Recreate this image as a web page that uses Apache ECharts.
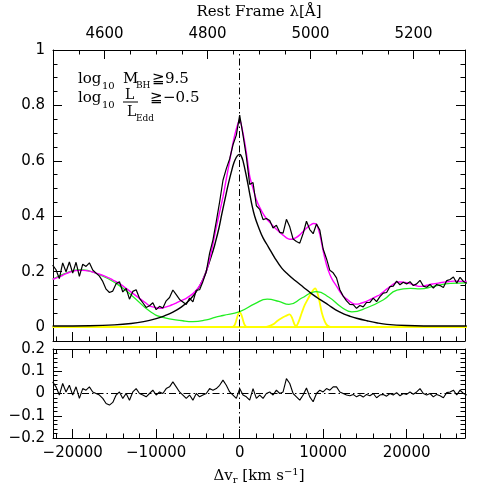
<!DOCTYPE html>
<html><head><meta charset="utf-8">
<script src="https://cdn.jsdelivr.net/npm/echarts@6/dist/echarts.min.js"></script>
<style>html,body{margin:0;padding:0;background:#fff}#c{width:491px;height:491px}</style>
</head><body><div id="c"></div>
<script>
// ---------- data ----------
const velocity = [-22400,-22000,-21600,-21200,-20800,-20400,-20000,-19600,-19200,-18800,
 -18400,-18000,-17600,-17200,-16800,-16400,-16000,-15600,-15200,-14800,
 -14400,-14000,-13600,-13200,-12800,-12400,-12000,-11600,-11200,-10800,
 -10400,-10000,-9600,-9200,-8800,-8400,-8000,-7600,-7200,-6800,
 -6400,-6000,-5600,-5200,-4800,-4400,-4000,-3600,-3200,-2800,
 -2400,-2000,-1600,-1200,-800,-400,0,400,800,1200,
 1600,2000,2400,2800,3200,3600,4000,4400,4800,5200,
 5600,6000,6400,6800,7200,7600,8000,8400,8800,9200,
 9600,10000,10400,10800,11200,11600,12000,12400,12800,13200,
 13600,14000,14400,14800,15200,15600,16000,16400,16800,17200,
 17600,18000,18400,18800,19200,19600,20000,20400,20800,21200,
 21600,22000,22400,22800,23200,23600,24000,24400,24800,25200,
 25600,26000,26400,26800,27200];
const observedFlux = [0.224,0.207,0.175,0.232,0.200,0.235,0.195,0.234,0.183,0.227,
 0.219,0.232,0.206,0.195,0.184,0.165,0.137,0.125,0.130,0.157,
 0.164,0.127,0.140,0.101,0.129,0.135,0.104,0.088,0.071,0.077,
 0.088,0.063,0.075,0.069,0.095,0.107,0.134,0.117,0.100,0.091,
 0.082,0.105,0.091,0.133,0.135,0.165,0.200,0.267,0.315,0.382,
 0.452,0.530,0.572,0.607,0.658,0.693,0.765,0.693,0.615,0.515,
 0.522,0.438,0.425,0.388,0.392,0.385,0.358,0.368,0.342,0.339,
 0.389,0.362,0.318,0.309,0.303,0.338,0.382,0.352,0.337,0.372,
 0.350,0.282,0.247,0.205,0.196,0.178,0.135,0.112,0.095,0.082,
 0.081,0.068,0.078,0.073,0.089,0.089,0.105,0.092,0.110,0.123,
 0.125,0.146,0.148,0.166,0.153,0.162,0.156,0.164,0.150,0.156,
 0.169,0.148,0.144,0.154,0.141,0.154,0.150,0.143,0.168,0.172,
 0.181,0.159,0.180,0.165,0.158];
const modelFlux = [0.172,0.177,0.182,0.187,0.193,0.198,0.202,0.204,0.205,0.205,
 0.204,0.202,0.199,0.195,0.191,0.187,0.182,0.177,0.170,0.164,
 0.157,0.149,0.140,0.131,0.122,0.113,0.104,0.095,0.086,0.077,
 0.073,0.070,0.068,0.069,0.073,0.077,0.082,0.087,0.093,0.098,
 0.104,0.112,0.121,0.133,0.150,0.172,0.200,0.245,0.300,0.360,
 0.415,0.470,0.535,0.600,0.665,0.715,0.750,0.700,0.630,0.545,
 0.500,0.460,0.432,0.410,0.392,0.378,0.365,0.353,0.342,0.332,
 0.322,0.317,0.318,0.324,0.333,0.345,0.357,0.367,0.374,0.372,
 0.335,0.275,0.225,0.190,0.166,0.148,0.128,0.112,0.102,0.092,
 0.085,0.083,0.085,0.089,0.093,0.099,0.105,0.111,0.117,0.127,
 0.137,0.146,0.155,0.162,0.163,0.162,0.160,0.157,0.153,0.149,
 0.147,0.148,0.151,0.154,0.156,0.158,0.160,0.162,0.164,0.165,
 0.166,0.166,0.165,0.165,0.165];
const residual = [0.052,0.030,-0.007,0.045,0.007,0.037,-0.007,0.030,-0.022,0.022,
 0.015,0.030,0.007,0.000,-0.007,-0.022,-0.045,-0.052,-0.040,-0.007,
 0.007,-0.022,0.000,-0.030,0.007,0.022,0.000,-0.007,-0.015,0.000,
 0.015,-0.007,0.007,0.000,0.022,0.030,0.052,0.030,0.007,-0.007,
 -0.022,-0.007,-0.030,0.000,-0.015,-0.007,0.000,0.022,0.015,0.022,
 0.037,0.060,0.037,0.007,-0.007,-0.022,0.022,-0.007,-0.015,-0.030,
 0.022,-0.022,-0.007,-0.022,0.000,0.007,-0.007,0.015,0.000,0.007,
 0.067,0.045,0.000,-0.015,-0.030,-0.007,0.025,-0.015,-0.037,0.000,
 0.015,0.007,0.022,0.015,0.030,0.030,0.007,0.000,-0.007,-0.010,
 -0.004,-0.015,-0.007,-0.016,-0.004,-0.010,0.000,-0.019,-0.007,-0.004,
 -0.012,0.000,-0.007,0.004,-0.010,0.000,-0.004,0.007,-0.003,0.007,
 0.022,0.000,-0.007,0.000,-0.015,-0.004,-0.010,-0.019,0.004,0.007,
 0.015,-0.007,0.015,0.000,-0.007];

const broadV = [-22400,-18000,-15000,-13000,-11500,-10000,-9000,-8000,-7000,-6000,
 -5200,-4400,-3770,-3200,-2960,-2500,-2160,-1700,-1370,-1000,
 -700,-400,-150,0,150,400,840,1150,1440,1800,
 2230,2800,3430,4200,5040,5800,6640,7600,8640,9600,
 10640,11500,12440,13240,14000,15240,16500,17640,20000,24000,
 27200];
const broadF = [0.004,0.005,0.008,0.013,0.020,0.031,0.041,0.054,0.072,0.098,
 0.128,0.172,0.222,0.275,0.300,0.355,0.405,0.470,0.515,0.560,
 0.592,0.613,0.622,0.623,0.620,0.600,0.539,0.490,0.445,0.400,
 0.363,0.322,0.290,0.250,0.213,0.190,0.168,0.145,0.120,0.100,
 0.080,0.062,0.048,0.039,0.032,0.023,0.015,0.010,0.006,0.004,
 0.004];

const feV = [-22400,-20800,-19000,-16800,-14800,-12800,-10800,-9200,-6800,-5600,
 -4000,-2960,-2000,0,1840,3300,4700,5900,7440,8640,
 9200,10700,12200,13440,15240,17230,18840,20440,21600,23230,
 25240,27200];
const feF = [0.173,0.195,0.207,0.189,0.158,0.111,0.058,0.035,0.023,0.020,
 0.026,0.035,0.042,0.056,0.085,0.101,0.093,0.082,0.105,0.125,
 0.128,0.108,0.072,0.055,0.070,0.099,0.134,0.140,0.138,0.147,
 0.158,0.160];

const hbNarrowV = [-22400,-900,-600,-400,-200,0,200,400,600,900,27200];
const hbNarrowF = [0,0,0.008,0.025,0.045,0.054,0.045,0.025,0.008,0,0];
const o4959V = [-22400,3000,4000,4500,5000,5500,6000,6300,6600,7000,27200];
const o4959F = [0,0,0.010,0.022,0.032,0.040,0.046,0.032,0.008,0,0];
const o5007V = [-22400,6600,7000,7440,7800,8240,8640,9040,9300,9520,9840,10200,10500,11000,27200];
const o5007F = [0,0,0.015,0.052,0.080,0.105,0.127,0.140,0.125,0.099,0.052,0.020,0.006,0,0];

// ---------- axis ranges & tick labels ----------
const velRange = [-22360, 26990];
const lamRange = [4500, 5300];
const fluxRange = [-0.05, 1];
const resRange = [-0.2, 0.2];
const velMajor = [-20000,-10000,0,10000,20000];
const velMinor = [-22000,-20000,-18000,-16000,-14000,-12000,-10000,-8000,-6000,-4000,-2000,0,2000,4000,6000,8000,10000,12000,14000,16000,18000,20000,22000,24000,26000];
const lamMajor = [4600,4800,5000,5200];
const lamMinor = [4550,4600,4650,4700,4750,4800,4850,4900,4950,5000,5050,5100,5150,5200,5250];
const fluxMajor = [0,0.2,0.4,0.6,0.8,1];
const fluxMinor = [0,0.05,0.1,0.15,0.2,0.25,0.3,0.35,0.4,0.45,0.5,0.55,0.6,0.65,0.7,0.75,0.8,0.85,0.9,0.95];
const resMajor = [-0.2,-0.1,0,0.1,0.2];
const resMinor = [-0.18,-0.16,-0.14,-0.12,-0.1,-0.08,-0.06,-0.04,-0.02,0,0.02,0.04,0.06,0.08,0.1,0.12,0.14,0.16,0.18];

// ---------- helpers ----------
const zip = (a, b) => a.map((v, i) => [v, b[i]]);
const NUMFONT = 'DejaVu Sans';
const SERIF = 'DejaVu Serif';
const fmt = v => String(Math.round(v * 1000) / 1000).replace('-', '\u2212');

function axis(grid, pos, range, ticks, len, opts) {
  opts = opts || {};
  return Object.assign({
    type: 'value', gridIndex: grid, position: pos, min: range[0], max: range[1],
    axisLine: { show: !!opts.line, onZero: false, lineStyle: { color: '#000', width: 1 } },
    axisTick: { show: true, inside: true, length: len, customValues: ticks, lineStyle: { color: '#000', width: 1 } },
    axisLabel: opts.labels ? { show: true, customValues: opts.labels, margin: 8, color: '#000',
      fontFamily: NUMFONT, fontSize: 15, formatter: fmt } : { show: false },
    splitLine: { show: false }
  }, opts.extra || {});
}

const MAJ = 9, MIN = 4.5;
const xAxes = [
  axis(0, 'bottom', velRange, velMajor, MAJ, { line: true }),
  axis(0, 'bottom', velRange, velMinor, MIN),
  axis(0, 'top', lamRange, lamMajor, MAJ, { line: true, labels: lamMajor,
    extra: { name: 'Rest Frame \u03bb[\u00c5]', nameLocation: 'middle', nameGap: 30,
      nameTextStyle: { fontFamily: SERIF, fontSize: 15, color: '#000' } } }),
  axis(0, 'top', lamRange, lamMinor, MIN),
  axis(1, 'bottom', velRange, velMajor, MAJ, { line: true, labels: velMajor,
    extra: { name: '\u0394v{sub|r} [km s{sup|\u22121}]', nameLocation: 'middle', nameGap: 29,
      nameTextStyle: { fontFamily: SERIF, fontSize: 15, color: '#000',
        rich: { sub: { fontFamily: SERIF, fontSize: 10, padding: [8, 0, 0, 0] },
                sup: { fontFamily: SERIF, fontSize: 10, padding: [0, 0, 8, 0] } } } } }),
  axis(1, 'bottom', velRange, velMinor, MIN),
  axis(1, 'top', velRange, velMajor, MAJ, { line: true }),
  axis(1, 'top', velRange, velMinor, MIN)
];
const yAxes = [
  axis(0, 'left', fluxRange, fluxMajor, MAJ, { line: true, labels: fluxMajor }),
  axis(0, 'left', fluxRange, fluxMinor, MIN),
  axis(0, 'right', fluxRange, fluxMajor, MAJ, { line: true }),
  axis(0, 'right', fluxRange, fluxMinor, MIN),
  axis(1, 'left', resRange, resMajor, MAJ, { line: true, labels: resMajor }),
  axis(1, 'left', resRange, resMinor, MIN),
  axis(1, 'right', resRange, resMajor, MAJ, { line: true }),
  axis(1, 'right', resRange, resMinor, MIN)
];

const dashDot = [7, 3, 1.5, 3];
function line(name, data, color, width, extra) {
  return Object.assign({ name, type: 'line', xAxisIndex: 0, yAxisIndex: 0, data,
    showSymbol: false, symbol: 'none', lineStyle: { color, width }, animation: false, silent: true }, extra || {});
}

const series = [
  line('[OIII]5007', zip(o5007V, o5007F), '#ffff00', 1.8, { smooth: 0.3 }),
  line('[OIII]4959', zip(o4959V, o4959F), '#ffff00', 1.8, { smooth: 0.3 }),
  line('Hβ narrow', zip(hbNarrowV, hbNarrowF), '#ffff00', 1.8, { smooth: 0.3 }),
  line('Fe II', zip(feV, feF), '#22ee22', 1.3, { smooth: 0.5 }),
  line('Hβ broad', zip(broadV, broadF), '#000000', 1.4, { smooth: 0.4 }),
  line('model', zip(velocity, modelFlux), '#ff00ff', 1.4, { smooth: 0.2 }),
  line('observed', zip(velocity, observedFlux), '#000000', 1.2, {
    markLine: { silent: true, symbol: 'none', label: { show: false }, animation: false,
      lineStyle: { color: '#000', width: 1, type: dashDot }, data: [{ xAxis: 0 }] } }),
  line('residual', zip(velocity, residual), '#000000', 1.1, { xAxisIndex: 4, yAxisIndex: 4,
    markLine: { silent: true, symbol: 'none', label: { show: false }, animation: false,
      lineStyle: { color: '#000', width: 1, type: dashDot }, data: [{ xAxis: 0 }, { yAxis: 0 }] } })
];

const T = (text, x, y, size, extra) => Object.assign({ type: 'text', x, y,
  style: { text, fill: '#000', font: size + 'px "' + SERIF + '"', textVerticalAlign: 'middle' } }, extra || {});
const graphic = [
  T('log', 78, 79, 15), T('10', 102, 86, 10), T('M', 123, 79, 15), T('BH', 136, 86, 9),
  T('\u22679.5', 152, 79, 15),
  T('log', 78, 98, 15), T('10', 102, 105, 10), T('L', 125, 95, 14),
  { type: 'line', shape: { x1: 123, y1: 102, x2: 138, y2: 102 }, style: { stroke: '#000', lineWidth: 1 } },
  T('L', 127, 112, 14), T('Edd', 136, 119, 9),
  T('\u2267\u22120.5', 150, 98, 15)
];

const chart = echarts.init(document.getElementById('c'), null, { renderer: 'canvas' });
chart.setOption({
  animation: false,
  backgroundColor: '#fff',
  grid: [
    { left: 53, top: 42, width: 412, height: 299 },
    { left: 53, top: 349, width: 412, height: 89 }
  ],
  xAxis: xAxes,
  yAxis: yAxes,
  series,
  graphic
});
</script></body></html>
